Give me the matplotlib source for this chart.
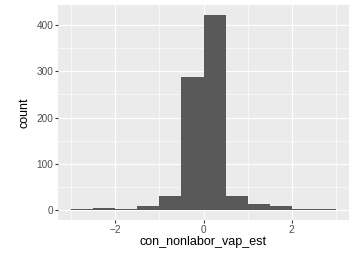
import numpy as np
import matplotlib
matplotlib.use("Agg")
import matplotlib.pyplot as plt

# histogram of con_nonlabor_vap_est (binwidth 0.5)
bin_edges = [-3.0, -2.5, -2.0, -1.5, -1.0, -0.5, 0.0, 0.5, 1.0, 1.5, 2.0, 2.5, 3.0]
counts = [2, 4, 2, 10, 30, 287, 422, 30, 13, 9, 2, 2]

x_ticks = [-2, 0, 2]
y_ticks = [0, 100, 200, 300, 400]

plt.rcParams['font.family'] = ['Liberation Sans', 'DejaVu Sans']

fig = plt.figure(figsize=(3.51, 2.54), dpi=100)
ax = fig.add_axes([58 / 351, 1 - 220 / 254, (349 - 58) / 351, (220 - 5) / 254])
ax.set_facecolor('#EBEBEB')

left = np.array(bin_edges[:-1])
widths = np.diff(bin_edges)
ax.bar(left, counts, width=widths, align='edge', color='#595959', linewidth=0, zorder=3)

# ggplot style expansion of 5%
xr = bin_edges[-1] - bin_edges[0]
ax.set_xlim(bin_edges[0] - 0.05 * xr, bin_edges[-1] + 0.05 * xr)
yr = max(counts)
ax.set_ylim(-0.05 * yr, yr * 1.05)

ax.set_xticks(x_ticks)
ax.set_xticklabels(['\u22122', '0', '2'])
ax.set_yticks(y_ticks)
ax.set_xticks([-3, -1, 1, 3], minor=True)
ax.set_yticks([50, 150, 250, 350], minor=True)

ax.grid(which='major', color='white', linewidth=0.8, zorder=1)
ax.grid(which='minor', color='white', linewidth=0.4, zorder=1)
ax.set_axisbelow(True)
for s in ax.spines.values():
    s.set_visible(False)

ax.tick_params(which='major', length=2.0, width=0.8, color='#333333',
               labelsize=7.2, labelcolor='#4D4D4D', pad=1.5)
ax.tick_params(which='minor', length=0)

ax.set_xlabel('con_nonlabor_vap_est', fontsize=9, color='black', labelpad=1)
ax.set_ylabel('count', fontsize=9, color='black', labelpad=4)

fig.savefig('out.png', dpi=100)
